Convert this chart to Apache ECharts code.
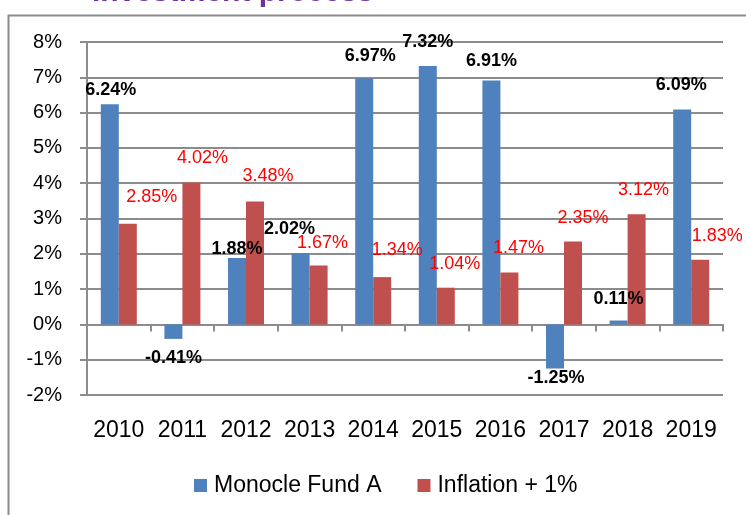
<!DOCTYPE html>
<html>
<head>
<meta charset="utf-8">
<title>Monocle Fund A vs Inflation + 1%</title>
<style>
  * { margin: 0; padding: 0; box-sizing: border-box; }
  body { background: #ffffff; width: 746px; height: 515px; overflow: hidden; }
  #chart { width: 746px; height: 515px; }
</style>
<script src="https://cdn.jsdelivr.net/npm/echarts@6/dist/echarts.min.js"></script>
</head>
<body>
<div id="chart"></div>
<script>
// data
const years = ['2010', '2011', '2012', '2013', '2014', '2015', '2016', '2017', '2018', '2019'];
const fundReturns = [6.24, -0.41, 1.88, 2.02, 6.97, 7.32, 6.91, -1.25, 0.11, 6.09];
const inflationPlusOne = [2.85, 4.02, 3.48, 1.67, 1.34, 1.04, 1.47, 2.35, 3.12, 1.83];
const yTicks = [-2, -1, 0, 1, 2, 3, 4, 5, 6, 7, 8];

// label nudges (the labels were hand-moved in the original)
const fundLabelNudge = [[1, -0.5], [0, 5], [0, 5], [-11, -10], [6, -8.5], [0, -10], [0, -5.5], [1, -4.5], [0, -7.5], [-1, -10.5]];
const inflLabelNudge = [[24, -13], [11, -10.5], [13, -11.5], [4, -8.5], [15, -13], [9, -10], [9, -10.5], [10, -9.5], [7, -10.5], [17, -10]];

const FONT = '"Liberation Sans", Arial, sans-serif';
const GRID_GRAY = '#8c8c8c';

const pct = (v) => v.toFixed(2) + '%';

const fundData = fundReturns.map((v, i) => ({
  value: v,
  label: {
    position: v < 0 ? 'bottom' : 'top',
    offset: fundLabelNudge[i]
  }
}));

const inflData = inflationPlusOne.map((v, i) => ({
  value: v,
  label: { offset: inflLabelNudge[i] }
}));

const chart = echarts.init(document.getElementById('chart'));

chart.setOption({
  backgroundColor: '#ffffff',
  animation: false,
  textStyle: { fontFamily: FONT },
  graphic: [
    {
      // outer frame of the pasted chart
      type: 'rect',
      left: 6, top: 13,
      shape: { width: 780, height: 540 },
      style: { fill: 'none', stroke: '#8a8a8a', lineWidth: 2 },
      silent: true
    },
    {
      // slide title, cut off at the top edge
      type: 'text',
      left: 92, top: -22,
      style: {
        text: 'Investment process',
        fill: '#7030a0',
        font: 'bold 30px ' + FONT
      },
      silent: true
    }
  ],
  grid: { left: 87, right: 23, top: 42, bottom: 120, containLabel: false },
  legend: {
    top: 469,
    left: 189,
    icon: 'rect',
    itemWidth: 13,
    itemHeight: 13,
    itemGap: 36,
    textStyle: { fontSize: 23, color: '#000', fontFamily: FONT, padding: [0, 0, 0, 2] },
    data: ['Monocle Fund A', 'Inflation + 1%']
  },
  xAxis: [
    {
      type: 'category',
      data: years,
      axisLine: { onZero: true, lineStyle: { color: GRID_GRAY, width: 2 } },
      axisTick: { show: true, length: 7, lineStyle: { color: GRID_GRAY, width: 2 } },
      axisLabel: { show: false }
    },
    {
      type: 'category',
      data: years,
      position: 'bottom',
      axisLine: { show: false },
      axisTick: { show: false },
      axisLabel: { interval: 0, fontSize: 23, color: '#000', margin: 24, fontFamily: FONT }
    }
  ],
  yAxis: {
    type: 'value',
    min: yTicks[0],
    max: yTicks[yTicks.length - 1],
    interval: 1,
    axisLine: { show: true, lineStyle: { color: GRID_GRAY, width: 2 } },
    axisTick: { show: true, length: 7, lineStyle: { color: GRID_GRAY, width: 2 } },
    axisLabel: { fontSize: 20, color: '#000', margin: 25, formatter: '{value}%', fontFamily: FONT },
    splitLine: { lineStyle: { color: GRID_GRAY, width: 2 } }
  },
  series: [
    {
      name: 'Monocle Fund A',
      type: 'bar',
      xAxisIndex: 0,
      data: fundData,
      barWidth: 18,
      barGap: '0%',
      itemStyle: { color: '#4f81bd' },
      label: {
        show: true,
        position: 'top',
        distance: 5,
        fontSize: 18,
        fontWeight: 'bold',
        color: '#000',
        fontFamily: FONT,
        formatter: (p) => pct(p.value)
      }
    },
    {
      name: 'Inflation + 1%',
      type: 'bar',
      xAxisIndex: 0,
      data: inflData,
      barWidth: 18,
      barGap: '0%',
      itemStyle: { color: '#c0504d' },
      label: {
        show: true,
        position: 'top',
        distance: 5,
        fontSize: 18,
        color: '#ff0000',
        fontFamily: FONT,
        formatter: (p) => pct(p.value)
      }
    }
  ]
});
</script>
</body>
</html>
